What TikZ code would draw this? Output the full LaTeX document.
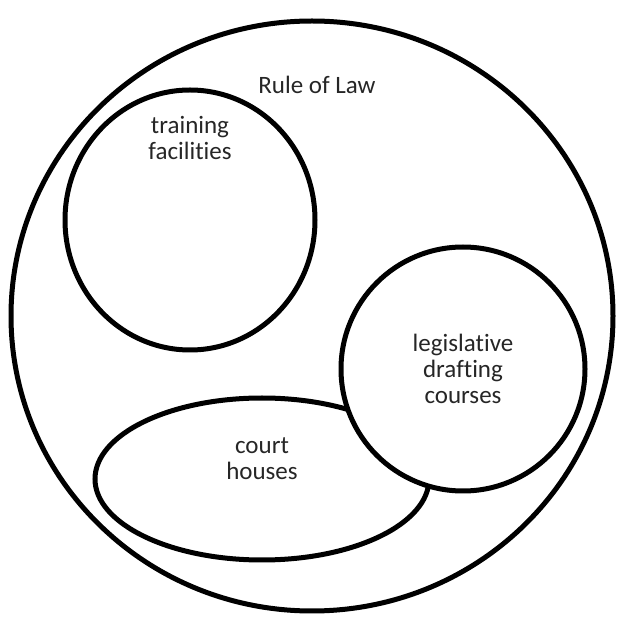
\documentclass[tikz,border=0pt]{standalone}
\usepackage{fontspec}
\setmainfont[Ligatures=NoCommon]{Carlito}
\usetikzlibrary{positioning}

\begin{document}
\begin{tikzpicture}[x=1pt, y=1pt, line width=5pt,
    label/.style={align=center, text=black!85, font=\fontsize{25}{26}\selectfont}]
    \useasboundingbox (0, 0) rectangle (618, 622);

    % Rule of Law
    \draw (312, 306) ellipse [x radius=301, y radius=295];
    \node[label] (law) at (317, 537) {Rule of Law};

    % Training facilities
    \draw (190, 402) ellipse [x radius=125, y radius=130];
    \node[label] (train) at (190, 484) {training\\facilities};

    % Court houses
    \draw (262, 143) ellipse [x radius=167, y radius=81];
    \node[label] (court) at (262, 163) {court\\houses};

    % Legislative drafting courses (on top)
    \draw[fill=white] (463, 253) circle [radius=122];
    \node[label] (draft) at (463, 253) {legislative\\drafting\\courses};
\end{tikzpicture}
\end{document}
